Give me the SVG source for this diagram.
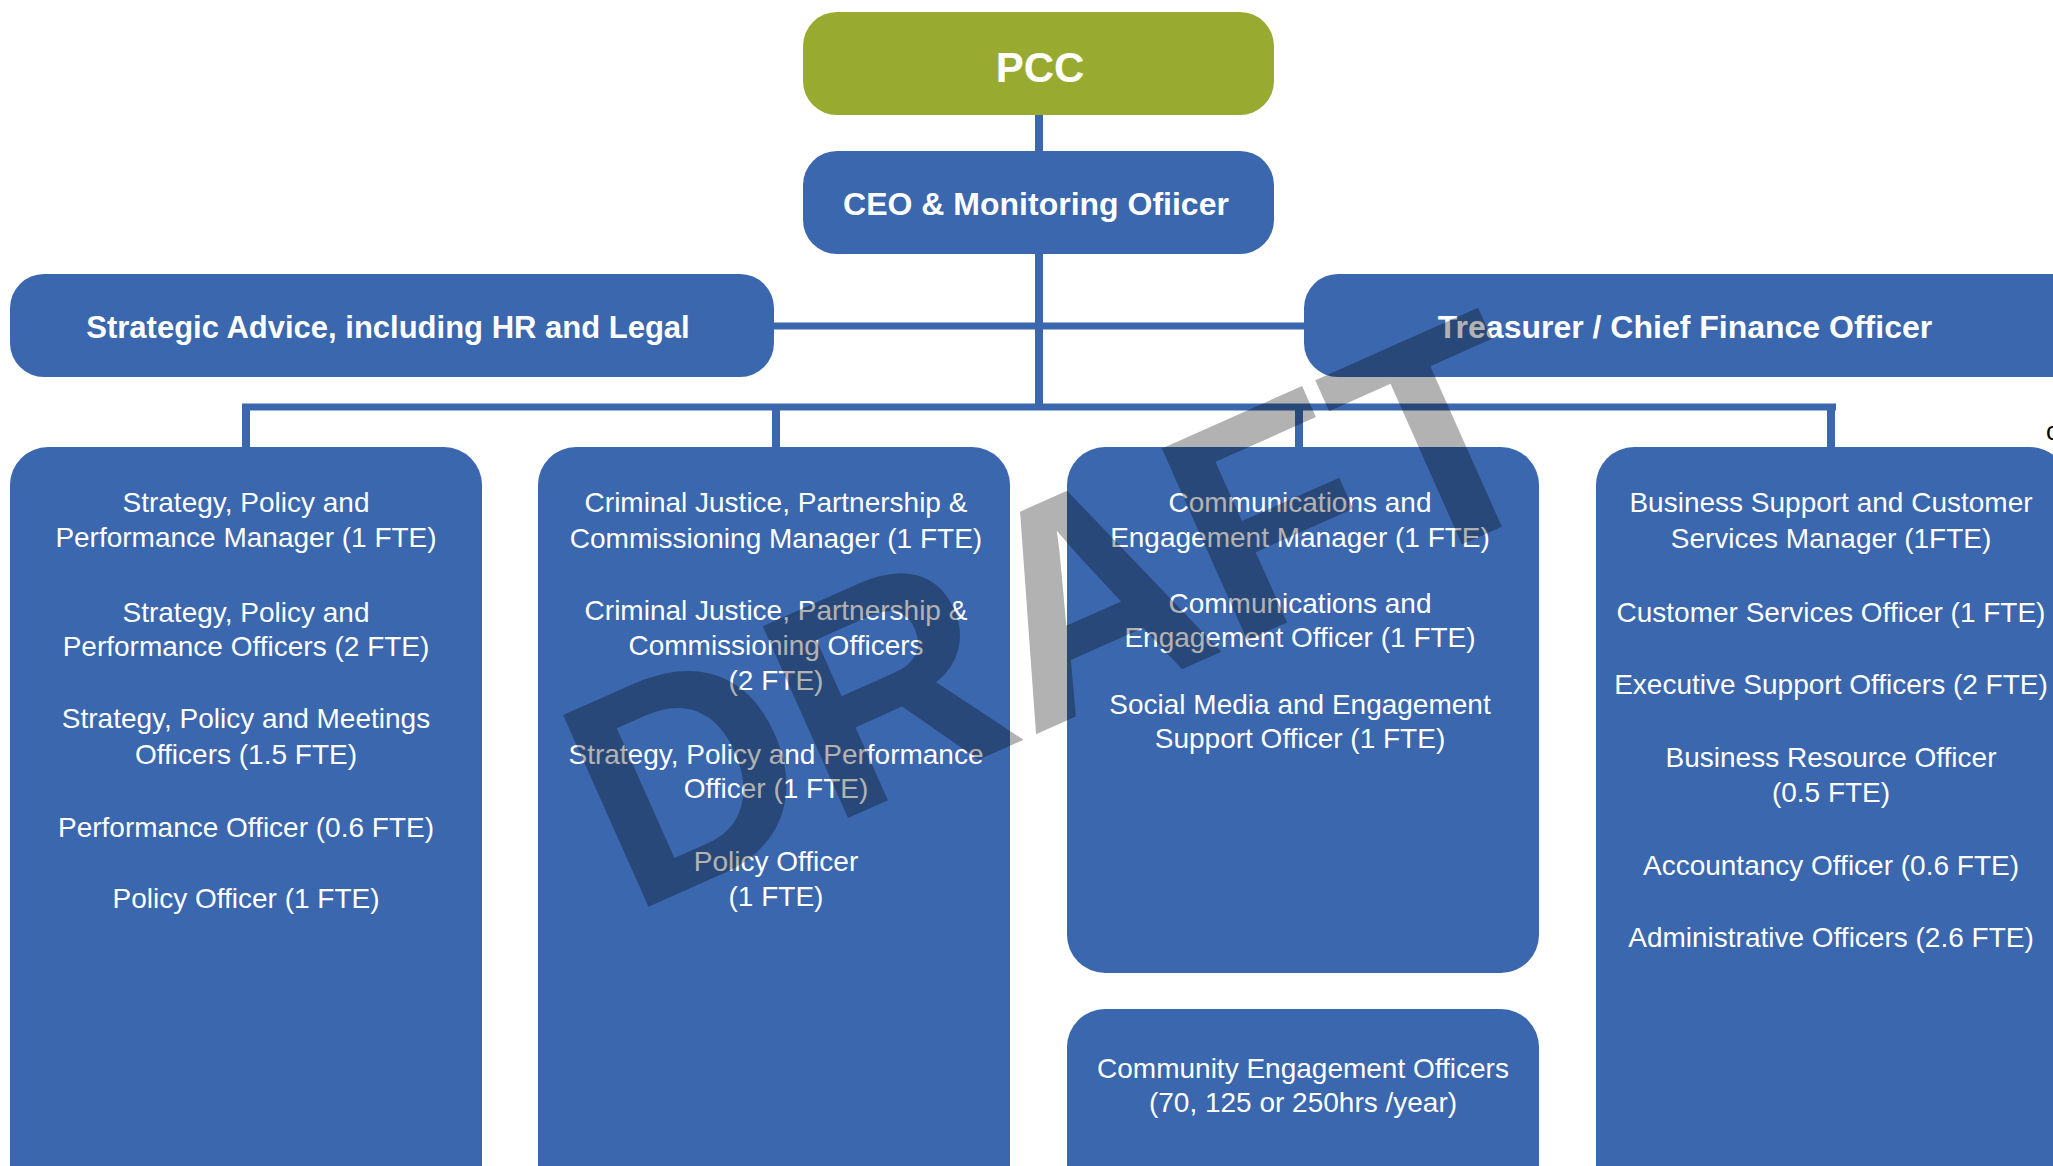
<svg xmlns="http://www.w3.org/2000/svg" width="2053" height="1166" viewBox="0 0 2053 1166">
<style>
.box{fill:#3A67AE}
.top{fill:#98AB30}
.ln{stroke:#3A67AE;fill:none}
.b{font-family:"Liberation Sans",Arial,sans-serif;font-weight:bold;fill:#FFFFFF;text-anchor:middle}
.t{font-family:"Liberation Sans",Arial,sans-serif;font-size:28px;fill:#FFFFFF;text-anchor:middle}
.wm{font-family:"Liberation Sans",Arial,sans-serif;font-weight:bold;font-size:305px;fill:#000000;fill-opacity:0.3}
</style>
<rect width="2053" height="1166" fill="#FFFFFF"/>
<g id="connectors">
<line class="ln" x1="1039" y1="110" x2="1039" y2="156" stroke-width="8"/>
<line class="ln" x1="1039" y1="250" x2="1039" y2="410" stroke-width="8"/>
<line class="ln" x1="770" y1="326" x2="1308" y2="326" stroke-width="7"/>
<line class="ln" x1="242" y1="407" x2="1836" y2="407" stroke-width="7"/>
<line class="ln" x1="246" y1="404" x2="246" y2="452" stroke-width="8"/>
<line class="ln" x1="776" y1="404" x2="776" y2="452" stroke-width="8"/>
<line class="ln" x1="1299" y1="404" x2="1299" y2="452" stroke-width="8"/>
<line class="ln" x1="1831" y1="404" x2="1831" y2="452" stroke-width="8"/>
</g>
<g id="pcc">
<rect class="top" x="803" y="12" width="471" height="103" rx="34"/>
<text class="b" x="1040" y="82" font-size="42">PCC</text>
</g>
<g id="ceo">
<rect class="box" x="803" y="151" width="471" height="103" rx="34"/>
<text class="b" x="1036" y="215" font-size="32">CEO &amp; Monitoring Ofiicer</text>
</g>
<g id="strategic-advice">
<rect class="box" x="10" y="274" width="764" height="103" rx="34"/>
<text class="b" x="388" y="338" font-size="31">Strategic Advice, including HR and Legal</text>
</g>
<g id="treasurer">
<rect class="box" x="1304" y="274" width="790" height="103" rx="34"/>
<text class="b" x="1685" y="338" font-size="32">Treasurer / Chief Finance Officer</text>
</g>
<g id="col-strategy">
<rect class="box" x="10" y="447" width="472" height="780" rx="38"/>
<text class="t" x="246" y="512">Strategy, Policy and</text>
<text class="t" x="246" y="547">Performance Manager (1 FTE)</text>
<text class="t" x="246" y="622">Strategy, Policy and</text>
<text class="t" x="246" y="656">Performance Officers (2 FTE)</text>
<text class="t" x="246" y="728">Strategy, Policy and Meetings</text>
<text class="t" x="246" y="764">Officers (1.5 FTE)</text>
<text class="t" x="246" y="837">Performance Officer (0.6 FTE)</text>
<text class="t" x="246" y="908">Policy Officer (1 FTE)</text>
</g>
<g id="col-criminal-justice">
<rect class="box" x="538" y="447" width="472" height="780" rx="38"/>
<text class="t" x="776" y="512">Criminal Justice, Partnership &amp;</text>
<text class="t" x="776" y="548">Commissioning Manager (1 FTE)</text>
<text class="t" x="776" y="620">Criminal Justice, Partnership &amp;</text>
<text class="t" x="776" y="655">Commissioning Officers</text>
<text class="t" x="776" y="690">(2 FTE)</text>
<text class="t" x="776" y="764">Strategy, Policy and Performance</text>
<text class="t" x="776" y="798">Officer (1 FTE)</text>
<text class="t" x="776" y="871">Policy Officer</text>
<text class="t" x="776" y="906">(1 FTE)</text>
</g>
<g id="col-communications">
<rect class="box" x="1067" y="447" width="472" height="526" rx="38"/>
<text class="t" x="1300" y="512">Communications and</text>
<text class="t" x="1300" y="547">Engagement Manager (1 FTE)</text>
<text class="t" x="1300" y="613">Communications and</text>
<text class="t" x="1300" y="647">Engagement Officer (1 FTE)</text>
<text class="t" x="1300" y="714">Social Media and Engagement</text>
<text class="t" x="1300" y="748">Support Officer (1 FTE)</text>
</g>
<g id="community">
<rect class="box" x="1067" y="1009" width="472" height="220" rx="38"/>
<text class="t" x="1303" y="1078">Community Engagement Officers</text>
<text class="t" x="1303" y="1112">(70, 125 or 250hrs /year)</text>
</g>
<g id="col-business-support">
<rect class="box" x="1596" y="447" width="472" height="780" rx="38"/>
<text class="t" x="1831" y="512">Business Support and Customer</text>
<text class="t" x="1831" y="548">Services Manager (1FTE)</text>
<text class="t" x="1831" y="622">Customer Services Officer (1 FTE)</text>
<text class="t" x="1831" y="694">Executive Support Officers (2 FTE)</text>
<text class="t" x="1831" y="767">Business Resource Officer</text>
<text class="t" x="1831" y="802">(0.5 FTE)</text>
<text class="t" x="1831" y="875">Accountancy Officer (0.6 FTE)</text>
<text class="t" x="1831" y="947">Administrative Officers (2.6 FTE)</text>
</g>
<text x="2046" y="440" font-family="Liberation Sans, Arial, sans-serif" font-size="26" fill="#000000">c</text>
<g id="watermark">
<text class="wm" x="630" y="915" transform="rotate(-24 630 915)" textLength="1025" lengthAdjust="spacingAndGlyphs">DRAFT</text>
</g>
</svg>
